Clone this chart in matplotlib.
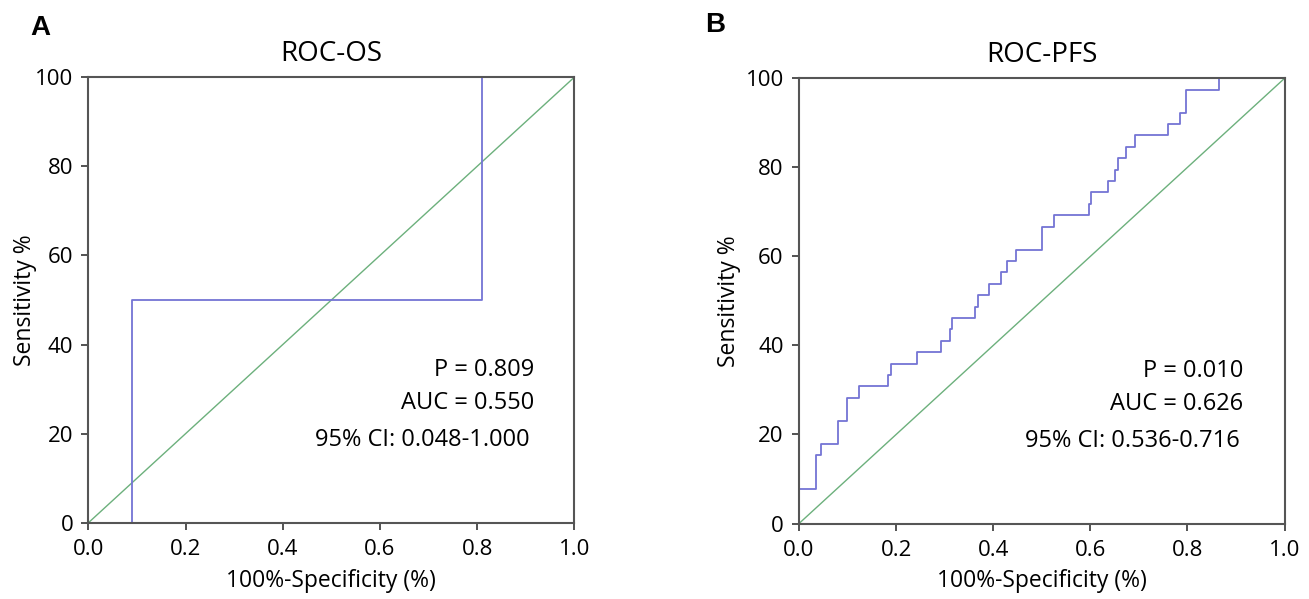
import matplotlib
matplotlib.use("Agg")
import matplotlib.pyplot as plt

# ROC-OS: corner points of the step curve (100%-specificity, sensitivity %)
os_fpr = [0.0, 0.089, 0.811, 1.0]
os_tpr = [0.0, 50.0, 100.0, 100.0]
os_stats = ["P = 0.809", "AUC = 0.550", "95% CI: 0.048-1.000"]

# ROC-PFS
pfs_fpr = [0.0, 0.0, 0.035, 0.045, 0.080, 0.098, 0.124, 0.183, 0.190, 0.243,
           0.293, 0.310, 0.315, 0.363, 0.368, 0.392, 0.416, 0.428, 0.447, 0.500,
           0.526, 0.597, 0.601, 0.636, 0.650, 0.658, 0.674, 0.692, 0.760, 0.784,
           0.798, 0.866, 1.0]
pfs_tpr = [0.0, 7.7, 15.4, 17.9, 23.1, 28.2, 30.8, 33.3, 35.9, 38.5,
           41.0, 43.6, 46.2, 48.7, 51.3, 53.8, 56.4, 59.0, 61.5, 66.7,
           69.2, 71.8, 74.4, 76.9, 79.5, 82.1, 84.6, 87.2, 89.7, 92.3,
           97.4, 100.0, 100.0]
pfs_stats = ["P = 0.010", "AUC = 0.626", "95% CI: 0.536-0.716"]

ref_line = [0.0, 1.0]
xticks = [0.0, 0.2, 0.4, 0.6, 0.8, 1.0]
yticks = [0, 20, 40, 60, 80, 100]

plt.rcParams['font.family'] = ['Open Sans', 'DejaVu Sans']

fig = plt.figure(figsize=(13.09, 5.99), dpi=100)
ax_a = fig.add_axes([0.0676, 0.1274, 0.3711, 0.7436])
ax_b = fig.add_axes([0.6104, 0.1260, 0.3709, 0.7432])


def draw_panel(ax, fpr, tpr, title, stats, text_x, ylab_x, xlab_y):
    # zorder below the spines so the parts lying on the frame are hidden
    ax.step(fpr, tpr, where='post', color='#7474d4', lw=1.3, zorder=2.2)
    ax.plot(ref_line, [0, 100], color='#6cb07c', lw=1.0, zorder=2)
    ax.set_xlim(0, 1)
    ax.set_ylim(0, 100)
    ax.set_xticks(xticks)
    ax.set_xticklabels([f"{t:.1f}" for t in xticks])
    ax.set_yticks(yticks)
    ax.tick_params(direction='out', length=5, width=1.3, color='#444444',
                   labelsize=16)
    ax.tick_params(axis='x', pad=7)
    ax.tick_params(axis='y', pad=6)
    for sp in ax.spines.values():
        sp.set_color('#555555')
        sp.set_linewidth(1.5)
    ax.set_xlabel("100%-Specificity (%)", fontsize=16.5, va='center')
    ax.set_ylabel("Sensitivity %", fontsize=16.5, va='center')
    ax.xaxis.set_label_coords(0.5, xlab_y)
    ax.yaxis.set_label_coords(ylab_x, 0.5)
    ax.set_title(title, fontsize=20, pad=12)
    for txt, y, dx in zip(stats, [0.343, 0.269, 0.186], [0, 0, -0.008]):
        ax.text(text_x + dx, y, txt, transform=ax.transAxes, ha='right',
                va='center', fontsize=17)


draw_panel(ax_a, os_fpr, os_tpr, "ROC-OS", os_stats, 0.917, -0.131, -0.131)
draw_panel(ax_b, pfs_fpr, pfs_tpr, "ROC-PFS", pfs_stats, 0.915, -0.144, -0.129)

fig.text(40 / 1309, 1 - 28 / 599, "A", fontsize=20, fontweight='bold',
         family='Liberation Sans', ha='center', va='center')
fig.text(715 / 1309, 1 - 25 / 599, "B", fontsize=20, fontweight='bold',
         family='Liberation Sans', ha='center', va='center')

fig.savefig("out.png", dpi=100)
